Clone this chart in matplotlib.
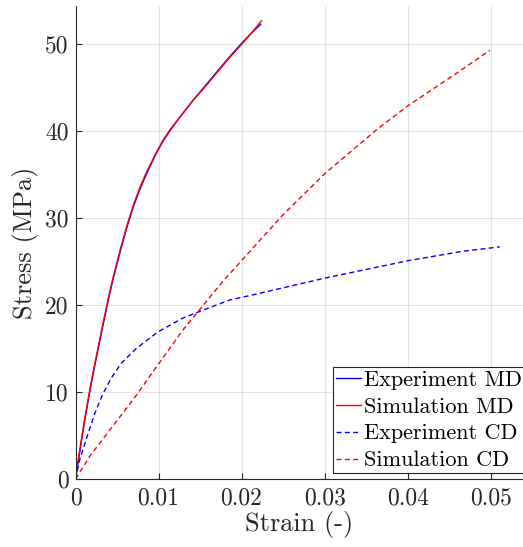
import matplotlib
matplotlib.use("Agg")
import matplotlib.pyplot as plt

plt.rcParams['font.family'] = 'cmr10'
plt.rcParams['axes.formatter.use_mathtext'] = True
plt.rcParams['mathtext.fontset'] = 'cm'

# --- data ---
exp_md_strain = [0, 0.0005, 0.001, 0.0015, 0.002, 0.0025, 0.0029, 0.0034, 0.004, 0.0045,
                 0.0055, 0.0063, 0.007, 0.0077, 0.0085, 0.0097, 0.0105, 0.0114, 0.0128,
                 0.0142, 0.0156, 0.0170, 0.0185, 0.0200, 0.0212, 0.0223]
exp_md_stress = [0, 3.1, 6.1, 8.9, 11.5, 13.9, 15.8, 18.1, 20.8, 22.9,
                 26.6, 29.3, 31.4, 33.2, 35.0, 37.4, 38.8, 40.1, 41.9,
                 43.6, 45.2, 46.8, 48.5, 50.1, 51.3, 52.3]

sim_md_strain = [0, 0.0005, 0.001, 0.0015, 0.002, 0.0025, 0.0029, 0.0034, 0.004, 0.0045,
                 0.0055, 0.0063, 0.007, 0.0077, 0.0085, 0.0097, 0.0105, 0.0114, 0.0128,
                 0.0142, 0.0156, 0.0170, 0.0185, 0.0200, 0.0212, 0.0224]
sim_md_stress = [0, 3.3, 6.3, 9.1, 11.7, 14.1, 16.0, 18.3, 21.0, 23.1,
                 26.8, 29.5, 31.6, 33.4, 35.2, 37.5, 38.9, 40.2, 41.9,
                 43.6, 45.1, 46.7, 48.4, 50.0, 51.3, 52.7]

exp_cd_strain = [0, 0.0005, 0.0015, 0.0023, 0.0033, 0.0043, 0.0055, 0.0073, 0.0099,
                 0.0129, 0.0153, 0.0186, 0.021, 0.030, 0.040, 0.0467, 0.0511]
exp_cd_stress = [0, 2.2, 5.2, 7.5, 9.8, 11.6, 13.3, 15.0, 16.9,
                 18.5, 19.4, 20.6, 21.1, 23.1, 25.1, 26.2, 26.7]

sim_cd_strain = [0, 0.0017, 0.0041, 0.0073, 0.0099, 0.0129, 0.0147, 0.0179, 0.0249,
                 0.030, 0.0363, 0.040, 0.0461, 0.0499]
sim_cd_stress = [0, 2.6, 5.6, 9.6, 13.1, 17.1, 19.2, 22.9, 30.3,
                 35.1, 40.2, 42.9, 46.8, 49.3]

xticks = [0, 0.01, 0.02, 0.03, 0.04, 0.05]
xtick_labels = ['0', '0.01', '0.02', '0.03', '0.04', '0.05']
yticks = [0, 10, 20, 30, 40, 50]
ytick_labels = ['0', '10', '20', '30', '40', '50']

fig = plt.figure(figsize=(5.23, 5.47), dpi=100)
ax = fig.add_axes([0.1444, 0.1243, 0.8556, 0.8647])

dash = (0, (3.6, 2.4))
ax.plot(exp_md_strain, exp_md_stress, color='blue', lw=1.0, label='Experiment MD')
ax.plot(sim_md_strain, sim_md_stress, color='red', lw=1.0, label='Simulation MD')
ax.plot(exp_cd_strain, exp_cd_stress, color='blue', lw=1.0, ls=dash, label='Experiment CD')
ax.plot(sim_cd_strain, sim_cd_stress, color='red', lw=1.0, ls=dash, label='Simulation CD')

ax.set_xlim(0, 0.0539)
ax.set_ylim(0, 54.4)
ax.set_xticks(xticks)
ax.set_xticklabels(xtick_labels)
ax.set_yticks(yticks)
ax.set_yticklabels(ytick_labels)

ax.spines['top'].set_visible(False)
ax.spines['right'].set_visible(False)
for s in ('left', 'bottom'):
    ax.spines[s].set_color('#262626')
    ax.spines[s].set_linewidth(0.8)
ax.tick_params(direction='in', length=4, width=0.8, colors='#262626',
               labelsize=17, labelcolor='#262626')
ax.tick_params(axis='x', pad=6)
ax.tick_params(axis='y', pad=5)
ax.grid(True, color='#262626', alpha=0.12, lw=0.8)

ax.set_xlabel('Strain (-)', fontsize=19, color='#262626', labelpad=1)
ax.set_ylabel('Stress (MPa)', fontsize=19, color='#262626', labelpad=4)

leg = ax.legend(loc='lower right', bbox_to_anchor=(1.004, 0.0127), borderaxespad=0,
                fontsize=16, frameon=True, fancybox=False,
                framealpha=1, edgecolor='#262626', handlelength=1.13,
                handletextpad=0.14, borderpad=0.12, labelspacing=0.33)
leg.get_frame().set_linewidth(0.8)

fig.savefig('out.png', dpi=100)
